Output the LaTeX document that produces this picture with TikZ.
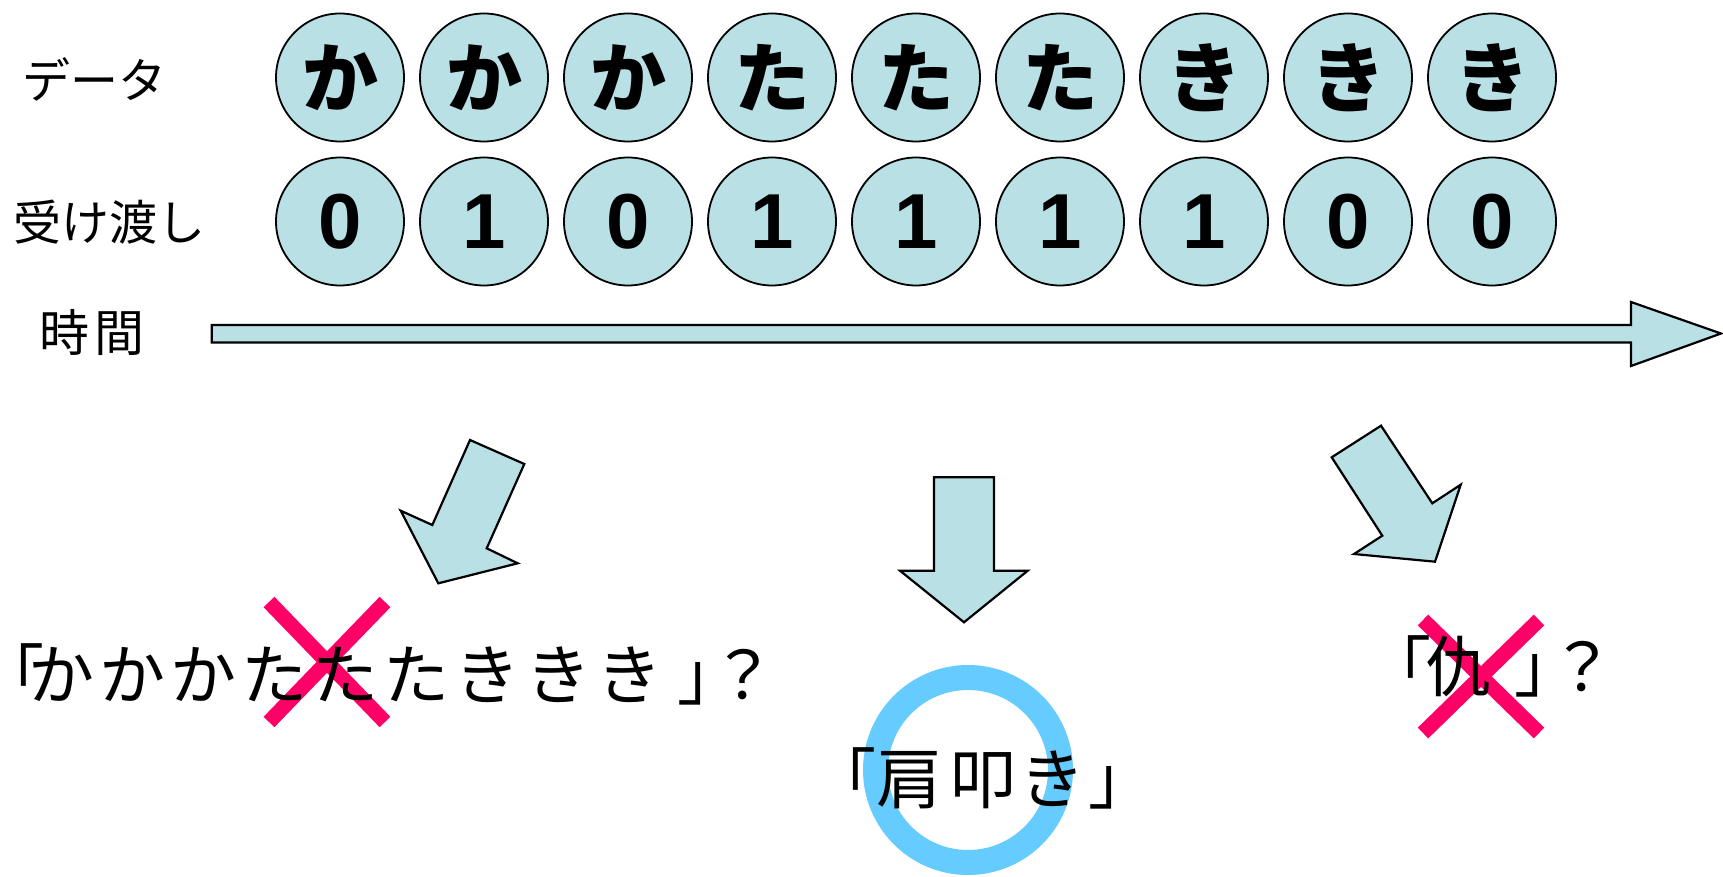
\documentclass[tikz,border=0pt]{standalone}
\usepackage{fontspec}
\setmainfont{Liberation Sans}
\newfontfamily\jp{Noto Sans CJK JP}
\definecolor{cfill}{RGB}{185,224,228}
\definecolor{xred}{RGB}{255,0,102}
\definecolor{ringblue}{RGB}{102,204,255}
\begin{document}
\begin{tikzpicture}[x=1pt,y=-1pt,
  bead/.style={circle,draw=black,line width=1.8pt,fill=cfill,minimum size=128pt,inner sep=0pt},
  kana/.style={font=\jp\bfseries\fontsize{76}{76}\selectfont},
  bit/.style={font=\bfseries\fontsize{78}{78}\selectfont},
  rowlabel/.style={font=\jp\fontsize{48}{48}\selectfont,inner sep=0pt},
  blockarrow/.style={draw=black,line width=2.2pt,fill=cfill,line join=miter},
  cross/.style={xred,line width=15pt},
  answer/.style={font=\jp\fontsize{66}{66}\selectfont,inner sep=0pt,anchor=west}]
\useasboundingbox (0,0) rectangle (1723,877);

% row labels
\node[rowlabel] (ldata) at (94.5,79) {データ};
\node[rowlabel] (lpass) at (109,222) {受け渡し};
\node[rowlabel,font=\jp\fontsize{50}{50}\selectfont] (ltime) at (92,332) {時\kern5pt 間};

% beads
\foreach \i/\k/\b in {1/か/0,2/か/1,3/か/0,4/た/1,5/た/1,6/た/1,7/き/1,8/き/0,9/き/0} {
  \node[bead,kana] (d\i) at ({340+144*(\i-1)},77.5) {\k};
  \node[bead,bit] (b\i) at ({340+144*(\i-1)},221.5) {\b};
}

% time arrow
\draw[blockarrow] (211.7,325) -- (1631,325) -- (1631,302) -- (1721,333.5)
  -- (1631,366) -- (1631,342.5) -- (211.7,342.5) -- cycle;

% result arrows
\draw[blockarrow] (470,440) -- (524.3,464) -- (486.7,548.3) -- (517.7,563.3)
  -- (438.3,583.3) -- (400.7,510.7) -- (432.3,525) -- cycle;
\draw[blockarrow] (934,477.3) -- (994,477.3) -- (994,570.7) -- (1027.7,570.7)
  -- (964,622.3) -- (900,570.7) -- (934,570.7) -- cycle;
\draw[blockarrow] (1331.7,457.3) -- (1381,425.7) -- (1432.3,503.3) -- (1460.7,484.7)
  -- (1435,561.7) -- (1354,554) -- (1382.3,535.7) -- cycle;

% marks
\draw[cross] (269,602) -- (385,722);
\draw[cross] (385,602) -- (269,722);
\draw[cross] (1423,620) -- (1539,733);
\draw[cross] (1539,620) -- (1423,733);
\draw[ringblue,line width=25pt] (968,770) circle[radius=92.5];

% answers
\node[answer] (t1) at (-22,674) {「\kern-16pt か\kern5pt か\kern5pt か\kern5pt た\kern5pt た\kern5pt た\kern5pt き\kern5pt き\kern5pt き\kern15pt 」\kern-33pt ？};
\node[answer] (t2) at (810,778) {「肩\kern8pt 叩\kern3pt き\kern3pt 」};
\node[answer] (t3) at (1365.5,666) {「\kern-6pt 仇\kern23pt 」\kern-31pt ？};
\end{tikzpicture}
\end{document}
